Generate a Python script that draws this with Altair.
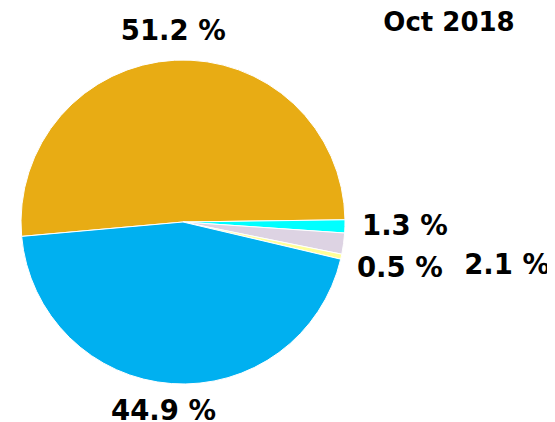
import math
import altair as alt
import pandas as pd

# data (clockwise order starting from the orange slice)
categories = ["A", "B", "C", "D", "E"]
shares = [51.2, 1.3, 2.1, 0.5, 44.9]
colors = ["#E8AC14", "#00FFFF", "#DDD3E3", "#FFFF99", "#00B0F0"]
label_group = ["top", "mid", "far", "mid", "bottom"]
title_text = "Oct 2018"

df = pd.DataFrame({
    "cat": categories,
    "share": shares,
    "idx": list(range(len(categories))),
    "label": [f"{v} %" for v in shares],
    "group": label_group,
})

start = math.radians(264.9)
theta_scale = alt.Scale(domain=[0, 100], range=[start, start + 2 * math.pi])
CX, CY = 175, 214
FONT = "DejaVu Sans"

pie = alt.Chart(df).mark_arc(outerRadius=162, stroke="white", strokeWidth=1).encode(
    theta=alt.Theta("share:Q", stack=True, scale=theta_scale),
    order=alt.Order("idx:Q"),
    x=alt.value(CX),
    y=alt.value(CY),
    color=alt.Color("cat:N", scale=alt.Scale(domain=categories, range=colors), legend=None),
)

lab_base = alt.Chart(df).transform_window(
    cum="sum(share)", sort=[alt.SortField("idx")], frame=[None, 0]
).transform_calculate(mid="datum.cum - datum.share / 2")

def labels(group, radius, dx=0, dy=0):
    return lab_base.transform_filter(alt.datum.group == group).mark_text(
        radius=radius, font=FONT, fontWeight="bold", fontSize=27.5,
        color="black", align="center", baseline="middle", dx=dx, dy=dy
    ).encode(
        theta=alt.Theta("mid:Q", stack=False, scale=theta_scale),
        x=alt.value(CX),
        y=alt.value(CY),
        text="label:N",
    )

title = alt.Chart(pd.DataFrame({"t": [title_text]})).mark_text(
    font=FONT, fontWeight="bold", fontSize=26, color="black",
    align="center", baseline="middle"
).encode(text="t:N", x=alt.value(441), y=alt.value(15))

chart = alt.layer(
    pie,
    labels("top", 190),
    labels("bottom", 190, dx=-6),
    labels("mid", 222, dy=-1),
    labels("far", 328, dx=-1),
    title,
).properties(
    width=539, height=414, autosize=alt.AutoSizeParams(type="none"), padding=0
).configure_view(stroke=None)

chart.save("out.html", embed_options={"renderer": "svg", "actions": False})
